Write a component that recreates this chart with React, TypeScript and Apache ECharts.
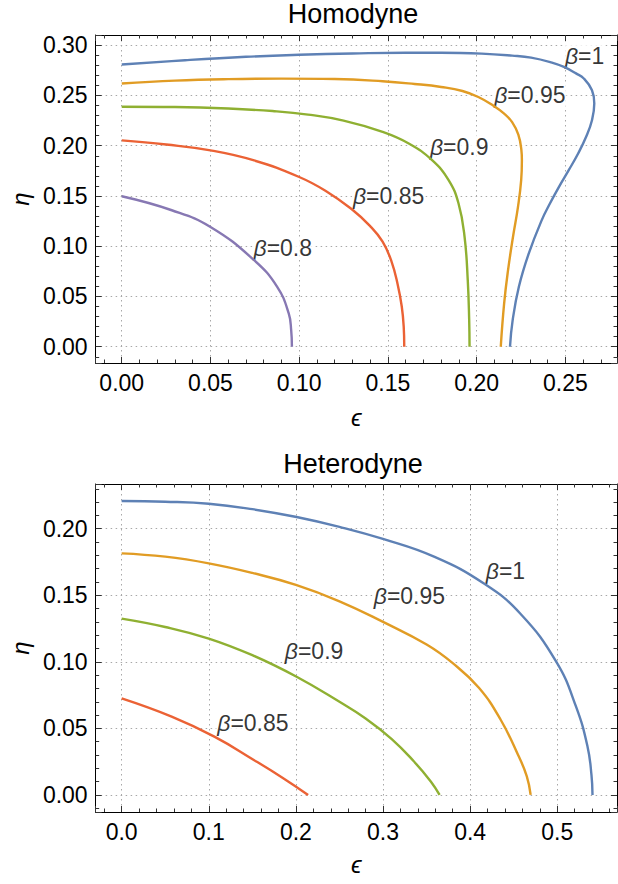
import React, { useEffect, useRef } from "react";
import * as echarts from "echarts";

const FONT = '"Liberation Sans", Arial, Helvetica, sans-serif';
const COLORS = ["#5e81b5", "#e19c24", "#8fb032", "#eb6235", "#8778b3"];

// ---------- data ----------
const homTitle = "Homodyne";
const hetTitle = "Heterodyne";
const xName = "ϵ";
const yName = "η";

const homBetas = ["1", "0.95", "0.9", "0.85", "0.8"];
const hetBetas = ["1", "0.95", "0.9", "0.85"];

const homBeta1 = [[0,0.2808],[0.0357,0.2851],[0.07,0.2885],[0.10,0.2905],[0.13,0.2918],[0.16,0.2926],[0.18,0.2926],[0.2028,0.2917],[0.22,0.2897],[0.2307,0.2877],[0.2420,0.2830],[0.2492,0.2784],[0.2560,0.2720],[0.2604,0.2669],[0.2650,0.2552],[0.2663,0.2420],[0.2650,0.2254],[0.2617,0.2089],[0.2572,0.1923],[0.2519,0.1757],[0.2464,0.1591],[0.2413,0.1425],[0.2367,0.1260],[0.2294,0.0929],[0.2238,0.0597],[0.2203,0.0265],[0.2188,0]];
const homBeta095 = [[0,0.2619],[0.03,0.2648],[0.06,0.2663],[0.09,0.2668],[0.12,0.2664],[0.147,0.2642],[0.165,0.2615],[0.18,0.2585],[0.192,0.2545],[0.2015,0.2480],[0.2093,0.2400],[0.2155,0.2320],[0.2200,0.2235],[0.2235,0.2110],[0.2252,0.1960],[0.2255,0.1856],[0.2251,0.1658],[0.2233,0.1392],[0.2205,0.1094],[0.2177,0.0762],[0.2155,0.0431],[0.2136,0]];
const homBeta09 = [[0,0.2388],[0.03,0.2385],[0.06,0.2370],[0.085,0.2345],[0.105,0.2310],[0.125,0.2250],[0.147,0.2138],[0.162,0.2020],[0.1749,0.1856],[0.1842,0.1658],[0.1898,0.1425],[0.1932,0.1094],[0.1950,0.0660],[0.1958,0.0265],[0.1960,0]];
const homBeta085 = [[0,0.2053],[0.025,0.2012],[0.05,0.1954],[0.0746,0.1854],[0.10,0.1689],[0.115,0.1550],[0.1295,0.1370],[0.140,0.1200],[0.147,0.1045],[0.152,0.0850],[0.1555,0.0620],[0.1578,0.0400],[0.1589,0.0200],[0.1592,0]];
const homBeta08 = [[0,0.1497],[0.0282,0.1358],[0.05,0.1192],[0.0746,0.0861],[0.0876,0.0596],[0.0941,0.0331],[0.0955,0.0160],[0.0959,0]];

const hetBeta1 = [[0,0.2208],[0.05,0.2203],[0.10,0.2188],[0.15,0.2147],[0.2008,0.2088],[0.25,0.2014],[0.2989,0.1925],[0.3592,0.1788],[0.4158,0.1588],[0.4574,0.1363],[0.4989,0.1000],[0.5215,0.0663],[0.5347,0.0363],[0.5392,0.0150],[0.5404,0]];
const hetBeta095 = [[0,0.1815],[0.05,0.1790],[0.10,0.1740],[0.15,0.1668],[0.20,0.1578],[0.25,0.1455],[0.30,0.1300],[0.35,0.1130],[0.38,0.0990],[0.41,0.0805],[0.435,0.0565],[0.455,0.0300],[0.465,0.0140],[0.4694,0]];
const hetBeta09 = [[0,0.1325],[0.05,0.1262],[0.10,0.1175],[0.15,0.1050],[0.2008,0.0888],[0.25,0.0700],[0.28,0.0575],[0.31,0.0420],[0.335,0.0255],[0.355,0.0100],[0.3649,0]];
const hetBeta085 = [[0,0.0725],[0.0574,0.0588],[0.1064,0.0438],[0.1517,0.0263],[0.1850,0.0128],[0.2140,0]];

const homCurves = [homBeta1, homBeta095, homBeta09, homBeta085, homBeta08];
const hetCurves = [hetBeta1, hetBeta095, hetBeta09, hetBeta085];

// label anchor points (left edge, vertical middle), in data units
const homLabelAnchors = [[0.2492,0.2892],[0.2093,0.2506],[0.1731,0.1989],[0.1297,0.1497],[0.0737,0.0978]];
const hetLabelAnchors = [[0.4168,0.1686],[0.2882,0.1495],[0.1861,0.1084],[0.1086,0.0543]];

// axis ranges and tick steps
const homXRange = [-0.0147, 0.2791];
const homYRange = [-0.0162, 0.3102];
const hetXRange = [-0.0298, 0.5685];
const hetYRange = [-0.0128, 0.2336];
const homXStep = 0.05, homYStep = 0.05, hetXStep = 0.1, hetYStep = 0.05;

// ---------- option builders ----------
function makeAxis(range: number[], step: number, decimals: number, gridIndex: number, position: string, primary: boolean, name?: string, nameGap?: number, isY?: boolean) {
  return {
    type: "value",
    gridIndex,
    position,
    min: range[0],
    max: range[1],
    minInterval: step,
    maxInterval: step,
    splitNumber: 6,
    name: primary ? name : undefined,
    nameLocation: "middle",
    nameGap: nameGap,
    nameRotate: isY ? 90 : 0,
    nameTextStyle: { fontFamily: FONT, fontSize: 24, color: "#000", fontStyle: "italic" },
    axisLine: { show: true, onZero: false, lineStyle: { color: "#000", width: 1 } },
    axisTick: { show: true, inside: true, length: 6, lineStyle: { color: "#333", width: 1 } },
    minorTick: { show: true, splitNumber: 5, length: 3.5, lineStyle: { color: "#333", width: 1 } },
    splitLine: { show: primary, showMinLine: false, showMaxLine: false, lineStyle: { color: "#a8a8a8", width: 1, type: [1.5, 3.5] } },
    minorSplitLine: { show: false },
    axisLabel: {
      show: primary,
      showMinLabel: false,
      showMaxLabel: false,
      hideOverlap: false,
      margin: 8,
      fontFamily: FONT,
      fontSize: 23,
      color: "#000",
      formatter: (v: number) => v.toFixed(decimals),
    },
  };
}

function curveSeries(curves: number[][][], axisIdx: number) {
  return curves.map((data, i) => ({
    type: "line",
    xAxisIndex: axisIdx,
    yAxisIndex: axisIdx,
    data,
    showSymbol: false,
    symbol: "none",
    smooth: 0.45,
    z: 3,
    lineStyle: { color: COLORS[i], width: 2.4 },
    itemStyle: { color: COLORS[i] },
  }));
}

function labelSeries(anchors: number[][], betas: string[], axisIdx: number) {
  return {
    type: "scatter",
    xAxisIndex: axisIdx,
    yAxisIndex: axisIdx,
    symbolSize: 0,
    z: 2,
    data: anchors.map((p, i) => ({ value: p, name: betas[i] })),
    label: {
      show: true,
      position: "right",
      distance: 0,
      backgroundColor: "#fff",
      padding: [0, 1],
      formatter: (p: any) => `{b|β}{n|=${p.name}}`,
      rich: {
        b: { fontFamily: FONT, fontSize: 23, fontStyle: "italic", color: "#000" },
        n: { fontFamily: FONT, fontSize: 23, color: "#000" },
      },
    },
  };
}

const titleStyle = { fontFamily: FONT, fontSize: 27, fill: "#000", textAlign: "center" };

const option = {
  animation: false,
  backgroundColor: "#fff",
  graphic: [
    { type: "text", x: 353, y: 0, style: { ...titleStyle, text: homTitle } },
    { type: "text", x: 353, y: 450, style: { ...titleStyle, text: hetTitle } },
  ],
  grid: [
    { left: 90, top: 35, width: 527, height: 328 },
    { left: 90, top: 484, width: 527, height: 328 },
  ],
  xAxis: [
    makeAxis(homXRange, homXStep, 2, 0, "bottom", true, xName, 42, false),
    makeAxis(hetXRange, hetXStep, 1, 1, "bottom", true, xName, 40, false),
    makeAxis(homXRange, homXStep, 2, 0, "top", false),
    makeAxis(hetXRange, hetXStep, 1, 1, "top", false),
  ],
  yAxis: [
    makeAxis(homYRange, homYStep, 2, 0, "left", true, yName, 58, true),
    makeAxis(hetYRange, hetYStep, 2, 1, "left", true, yName, 58, true),
    makeAxis(homYRange, homYStep, 2, 0, "right", false),
    makeAxis(hetYRange, hetYStep, 2, 1, "right", false),
  ],
  series: [
    ...curveSeries(homCurves, 0),
    ...curveSeries(hetCurves, 1),
    labelSeries(homLabelAnchors, homBetas, 0),
    labelSeries(hetLabelAnchors, hetBetas, 1),
  ],
};

export default function App() {
  const ref = useRef<HTMLDivElement>(null);
  useEffect(() => {
    const chart = echarts.init(ref.current as HTMLDivElement, null, { renderer: "svg" });
    chart.setOption(option as any);
    return () => chart.dispose();
  }, []);
  return (
    <div
      ref={ref}
      style={{ position: "fixed", left: 0, top: 0, width: 618, height: 884, background: "#fff" }}
    />
  );
}
